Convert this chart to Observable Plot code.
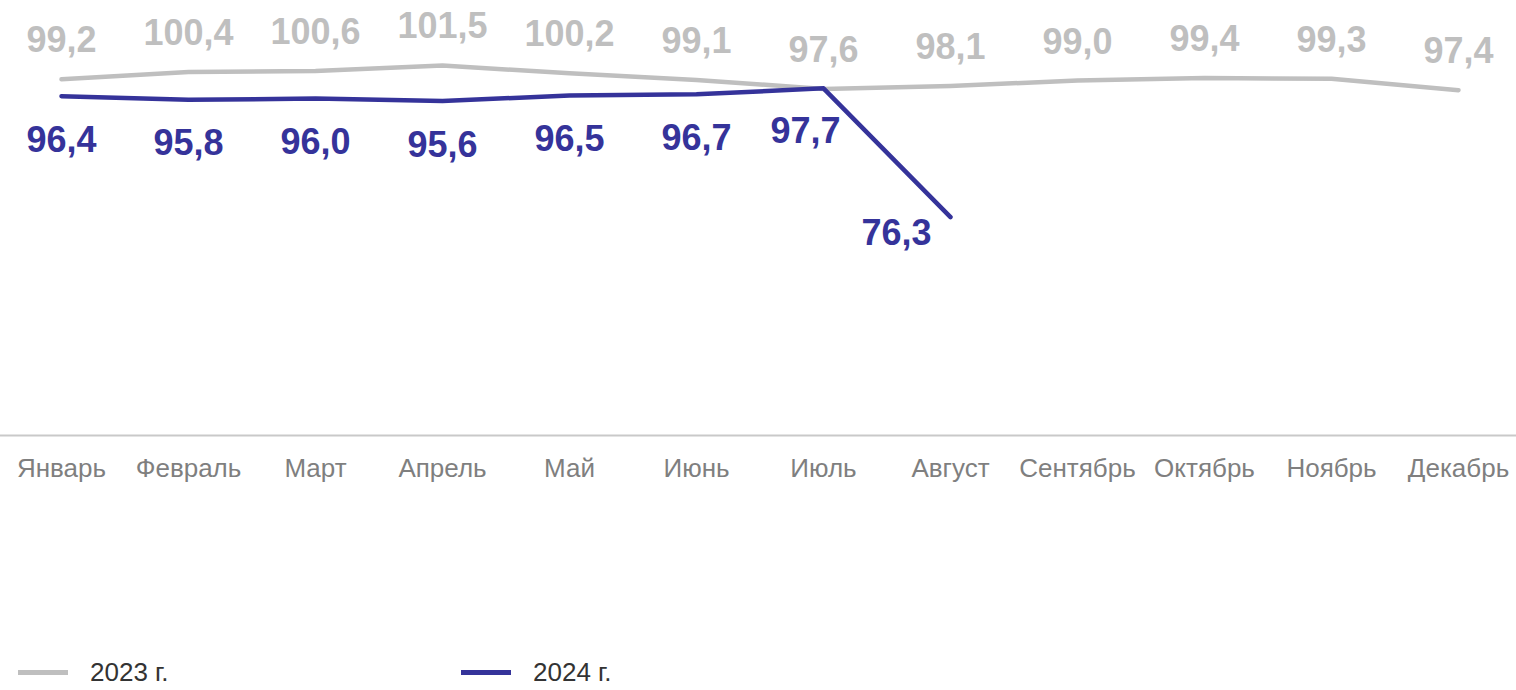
<!DOCTYPE html>
<html>
<head>
<meta charset="utf-8">
<script src="https://cdn.jsdelivr.net/npm/d3@7"></script>
<script src="https://cdn.jsdelivr.net/npm/@observablehq/plot@0.6"></script>
<style>
  html, body { margin: 0; padding: 0; background: #fff; }
  #chart { width: 1516px; height: 690px; position: relative; overflow: hidden; font-family: "Liberation Sans", Arial, sans-serif; }
  .legend { position: absolute; left: 0; top: 656px; height: 32px; width: 1516px; font-size: 26px; line-height: 30px; color: #333; }
  .legend .item { position: absolute; top: 0; display: flex; align-items: center; height: 32px; }
  .legend .sw { width: 50px; height: 5px; margin-right: 22px; }
</style>
</head>
<body>
<div id="chart"></div>
<script>
const months = ["Январь","Февраль","Март","Апрель","Май","Июнь","Июль","Август","Сентябрь","Октябрь","Ноябрь","Декабрь"];
const values2023 = [99.2,100.4,100.6,101.5,100.2,99.1,97.6,98.1,99.0,99.4,99.3,97.4];
const values2024 = [96.4,95.8,96.0,95.6,96.5,96.7,97.7,76.3];
const seriesNames = ["2023 г.","2024 г."];
const colors = ["#bfbfbf","#35339a"];

const fmt = v => d3.format(".1f")(v).replace(".", ",");
const d23 = values2023.map((v,i) => ({month: months[i], value: v}));
const d24 = values2024.map((v,i) => ({month: months[i], value: v}));
const last24 = d24.length - 1;

const plot = Plot.plot({
  width: 1516,
  height: 650,
  marginLeft: 0,
  marginRight: 0,
  marginTop: 0,
  marginBottom: 215,
  style: {fontFamily: '"Liberation Sans", Arial, sans-serif', background: "transparent"},
  x: {type: "point", domain: months, range: [58, 1461], padding: 0, label: null},
  y: {domain: [40, 112.3], range: [435, 0], axis: null},
  marks: [
    Plot.ruleY([40], {stroke: "#c9c9c9", strokeWidth: 2}),
    Plot.axisX({tickSize: 0, tickPadding: 23, fontSize: 26, color: "#7f7f7f", label: null}),
    Plot.line(d23, {x: "month", y: "value", stroke: colors[0], strokeWidth: 4.5, strokeLinecap: "round", strokeLinejoin: "round"}),
    Plot.line(d24, {x: "month", y: "value", stroke: colors[1], strokeWidth: 4.5, strokeLinecap: "round", strokeLinejoin: "round"}),
    Plot.text(d23, {x: "month", y: "value", text: d => fmt(d.value), lineAnchor: "bottom", dy: -27, fill: colors[0], fontSize: 36, fontWeight: "bold"}),
    Plot.text(d24.slice(0, last24 - 1), {x: "month", y: "value", text: d => fmt(d.value), lineAnchor: "top", dy: 30, fill: colors[1], fontSize: 36, fontWeight: "bold"}),
    Plot.text(d24.slice(last24 - 1, last24), {x: "month", y: "value", text: d => fmt(d.value), lineAnchor: "top", dy: 29, dx: -18, fill: colors[1], fontSize: 36, fontWeight: "bold"}),
    Plot.text(d24.slice(last24), {x: "month", y: "value", text: d => fmt(d.value), lineAnchor: "top", dy: 2, dx: -54, fill: colors[1], fontSize: 36, fontWeight: "bold"})
  ]
});
const chart = document.getElementById("chart");
chart.appendChild(plot);

const legend = document.createElement("div");
legend.className = "legend";
const lefts = [18, 461];
seriesNames.forEach((name, i) => {
  const item = document.createElement("div");
  item.className = "item";
  item.style.left = lefts[i] + "px";
  const sw = document.createElement("span");
  sw.className = "sw";
  sw.style.background = colors[i];
  const t = document.createElement("span");
  t.textContent = name;
  item.appendChild(sw);
  item.appendChild(t);
  legend.appendChild(item);
});
chart.appendChild(legend);
</script>
</body>
</html>
